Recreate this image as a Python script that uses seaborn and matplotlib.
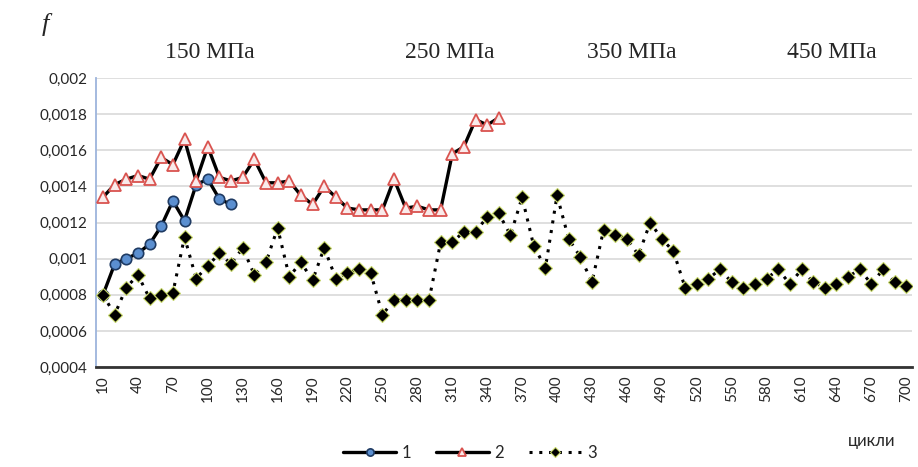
import numpy as np
import pandas as pd
import matplotlib
matplotlib.use("Agg")
import matplotlib.pyplot as plt
import seaborn as sns

cycles = list(range(10, 710, 10))

series1 = [0.0008, 0.00097, 0.001, 0.00103, 0.00108, 0.00118, 0.00132, 0.00121,
           0.00141, 0.00144, 0.00133, 0.0013]

series2 = [0.00134, 0.00141, 0.00144, 0.00146, 0.00144, 0.00156, 0.00152, 0.00166,
           0.00143, 0.00162, 0.00145, 0.00143, 0.00145, 0.00155, 0.00142, 0.00142,
           0.00143, 0.00135, 0.0013, 0.0014, 0.00134, 0.00128, 0.00127, 0.00127,
           0.00127, 0.00144, 0.00128, 0.00129, 0.00127, 0.00127, 0.00158, 0.00162,
           0.00177, 0.00174, 0.00178]

series3 = [0.0008, 0.00069, 0.00084, 0.00091, 0.00078, 0.0008, 0.00081, 0.00112,
           0.00089, 0.00096, 0.00103, 0.00097, 0.00106, 0.00091, 0.00098, 0.00117,
           0.0009, 0.00098, 0.00088, 0.00106, 0.00089, 0.00092, 0.00094, 0.00092,
           0.00069, 0.00077, 0.00077, 0.00077, 0.00077, 0.00109, 0.00109, 0.00115,
           0.00115, 0.00123, 0.00125, 0.00113, 0.00134, 0.00107, 0.00095, 0.00135,
           0.00111, 0.00101, 0.00087, 0.00116, 0.00113, 0.00111, 0.00102, 0.0012,
           0.00111, 0.00104, 0.00084, 0.00086, 0.00089, 0.00094, 0.00087, 0.00084,
           0.00086, 0.00089, 0.00094, 0.00086, 0.00094, 0.00087, 0.00084, 0.00086,
           0.0009, 0.00094, 0.00086, 0.00094, 0.00087, 0.00085]

yticks = [0.0004, 0.0006, 0.0008, 0.001, 0.0012, 0.0014, 0.0016, 0.0018, 0.002]
ytick_labels = ["0,0004", "0,0006", "0,0008", "0,001", "0,0012", "0,0014",
                "0,0016", "0,0018", "0,002"]
xticks = cycles[::3]
stress_labels = ["150 МПа", "250 МПа", "350 МПа", "450 МПа"]
legend_labels = ["1", "2", "3"]

df1 = pd.DataFrame({"cycle": cycles[:len(series1)], "f": series1})
df2 = pd.DataFrame({"cycle": cycles[:len(series2)], "f": series2})
df3 = pd.DataFrame({"cycle": cycles, "f": series3})

sns.set_style("white")
plt.rcParams["font.family"] = ["Lato", "DejaVu Sans"]

fig = plt.figure(figsize=(9.18, 4.67), dpi=100)
ax = fig.add_axes([0.1046, 0.214, 0.889, 0.619])

sns.lineplot(data=df1, x="cycle", y="f", ax=ax, color="black", lw=2.4,
             marker="o", markersize=7.5, markerfacecolor="#5b8fd0",
             markeredgecolor="#1f3b63", markeredgewidth=1.2, zorder=2)
sns.lineplot(data=df2, x="cycle", y="f", ax=ax, color="black", lw=2.4,
             marker="^", markersize=8.5, markerfacecolor="#f9eaea",
             markeredgecolor="#d9534f", markeredgewidth=1.3, zorder=3)
sns.lineplot(data=df3, x="cycle", y="f", ax=ax, color="black", lw=2.2,
             linestyle=(0, (1, 2.2)), marker="D", markersize=7,
             markerfacecolor="black", markeredgecolor="#c8d86a",
             markeredgewidth=0.8, zorder=4)

ax.set_xlim(4, 705)
ax.set_ylim(0.0004, 0.002)
ax.set_yticks(yticks)
ax.set_yticklabels(ytick_labels, fontsize=11)
ax.set_xticks(xticks)
ax.set_xticklabels([str(c) for c in xticks], rotation=90, fontsize=11)
ax.tick_params(axis="both", length=0, pad=6)
ax.set_xlabel("")
ax.set_ylabel("")
ax.yaxis.grid(True, color="#d9d9d9", lw=1.2)

sns.despine(ax=ax, top=True, right=True)
ax.spines["left"].set_color("#9db4dc")
ax.spines["left"].set_linewidth(1.3)
ax.spines["bottom"].set_color("#333333")
ax.spines["bottom"].set_linewidth(2)

handles = ax.get_lines()[:3]
ax.legend(handles, legend_labels, loc="center", bbox_to_anchor=(0.458, -0.298),
          ncol=3, frameon=False, fontsize=12, handlelength=3.2, columnspacing=1.5,
          handletextpad=0.3, markerscale=0.7)

stress_x = [210, 450, 632, 832]
for sx, lab in zip(stress_x, stress_labels):
    fig.text(sx / 918, 1 - 52 / 467, lab, ha="center", va="center",
             fontsize=17, family=["Liberation Serif", "DejaVu Serif"])

fig.text(45 / 918, 1 - 25 / 467, "f", ha="center", va="center", fontsize=19,
         style="italic", family=["Liberation Serif", "DejaVu Serif"])
fig.text(872 / 918, 1 - 441 / 467, "цикли", ha="center", va="center", fontsize=12)

fig.savefig("out.png", dpi=100)
